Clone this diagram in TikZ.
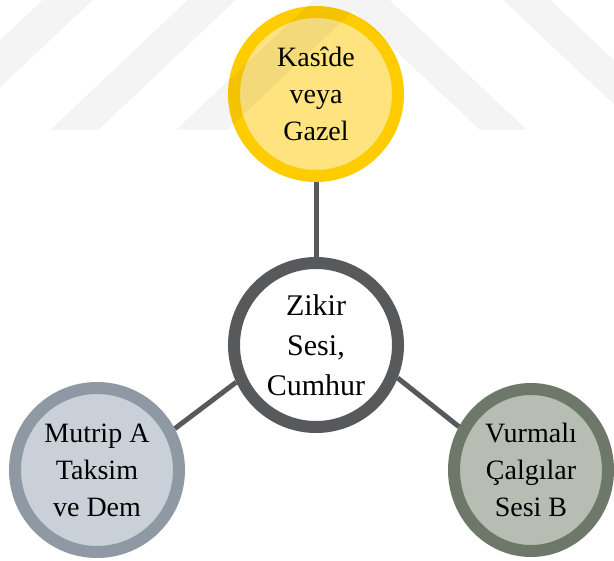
\documentclass[tikz,border=0pt]{standalone}
\usepackage{fontspec}
\setmainfont{Liberation Serif}
\usetikzlibrary{shapes.geometric,backgrounds}
\definecolor{ylring}{HTML}{FFCC00}
\definecolor{ylfill}{HTML}{FEE37F}
\definecolor{dkring}{HTML}{58595B}
\definecolor{blring}{HTML}{8E99A4}
\definecolor{blfill}{HTML}{CAD0D7}
\definecolor{grring}{HTML}{6D786B}
\definecolor{grfill}{HTML}{B8BDB4}
\tikzset{
  bubble/.style={circle, line width=12pt, inner sep=0pt, minimum size=164pt,
    align=center, text=black, font=\fontsize{28}{37}\selectfont},
  hubbubble/.style={bubble, draw=dkring, fill=white, font=\fontsize{30}{40}\selectfont},
  conn/.style={draw=dkring, line width=5pt},
  wmark/.style={fill=black, fill opacity=0.045}
}
\begin{document}
\begin{tikzpicture}[x=1pt,y=-1pt]
\useasboundingbox (0,0) rectangle (614,561);
\begin{scope}[on background layer]
  \fill[white] (0,0) rectangle (614,561);
\end{scope}

\node[bubble, draw=ylring, fill=ylfill] (top) at (316,94) {Kasîde\\veya\\Gazel};
\node[hubbubble] (hub) at (316,345) {Zikir\\Sesi,\\Cumhur};
\node[bubble, draw=blring, fill=blfill] (left) at (97,470) {Mutrip A\\Taksim\\ve Dem};
\node[bubble, shape=ellipse, draw=grring, fill=grfill, minimum width=154pt, minimum height=162pt] (right) at (531,470) {Vurmalı\\Çalgılar\\Sesi B};

\begin{scope}[on background layer]
  \draw[conn] (top.south) -- (hub.north);
  \draw[conn] (hub.205) -- (left.28);
  \draw[conn] (hub.338) -- (right.149);
\end{scope}

% faint watermark chevrons
\begin{scope}
  \clip (0,0) rectangle (614,561);
  \fill[wmark] (176,130) -- (351.5,-35.6) -- (527,130) -- (480,130) -- (353.5,10.7) -- (227,130) -- cycle;
  \fill[wmark] (50,130) -- (369,-171) -- (688,130) -- (641,130) -- (369.5,-126) -- (98,130) -- cycle;
  \fill[wmark] (-95,130) -- (369,-307.7) -- (833,130) -- (783,130) -- (369,-260.6) -- (-45,130) -- cycle;
\end{scope}
\end{tikzpicture}
\end{document}
